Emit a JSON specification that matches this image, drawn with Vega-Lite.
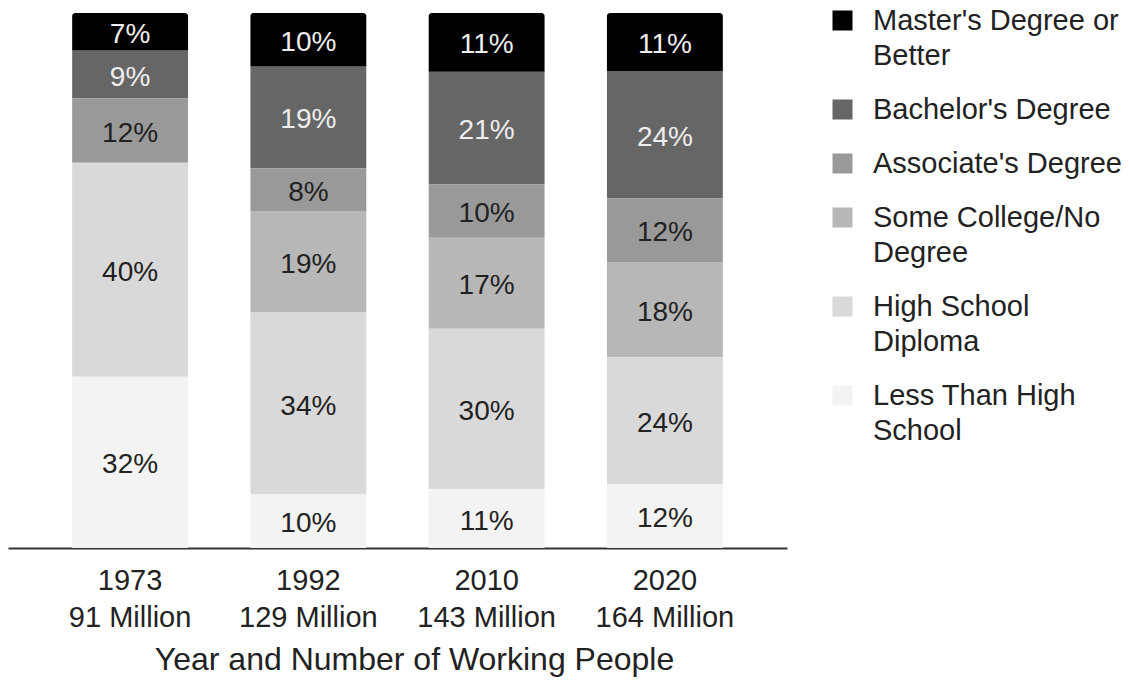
{
  "$schema": "https://vega.github.io/schema/vega-lite/v6.json",
  "width": 779,
  "height": 535,
  "autosize": "none",
  "padding": {"left": 8, "top": 13, "right": 342, "bottom": 132},
  "background": "white",
  "config": {
    "font": "Liberation Sans",
    "view": {"stroke": null},
    "legend": {"padding": 0}
  },
  "data": {
    "values": [
      {"period": "1973, 91 Million", "edu": "Master's Degree or Better", "share": 0.07, "rank": 6},
      {"period": "1973, 91 Million", "edu": "Bachelor's Degree", "share": 0.09, "rank": 5},
      {"period": "1973, 91 Million", "edu": "Associate's Degree", "share": 0.12, "rank": 4},
      {"period": "1973, 91 Million", "edu": "High School Diploma", "share": 0.40, "rank": 2},
      {"period": "1973, 91 Million", "edu": "Less Than High School", "share": 0.32, "rank": 1},
      {"period": "1992, 129 Million", "edu": "Master's Degree or Better", "share": 0.10, "rank": 6},
      {"period": "1992, 129 Million", "edu": "Bachelor's Degree", "share": 0.19, "rank": 5},
      {"period": "1992, 129 Million", "edu": "Associate's Degree", "share": 0.08, "rank": 4},
      {"period": "1992, 129 Million", "edu": "Some College/No Degree", "share": 0.19, "rank": 3},
      {"period": "1992, 129 Million", "edu": "High School Diploma", "share": 0.34, "rank": 2},
      {"period": "1992, 129 Million", "edu": "Less Than High School", "share": 0.10, "rank": 1},
      {"period": "2010, 143 Million", "edu": "Master's Degree or Better", "share": 0.11, "rank": 6},
      {"period": "2010, 143 Million", "edu": "Bachelor's Degree", "share": 0.21, "rank": 5},
      {"period": "2010, 143 Million", "edu": "Associate's Degree", "share": 0.10, "rank": 4},
      {"period": "2010, 143 Million", "edu": "Some College/No Degree", "share": 0.17, "rank": 3},
      {"period": "2010, 143 Million", "edu": "High School Diploma", "share": 0.30, "rank": 2},
      {"period": "2010, 143 Million", "edu": "Less Than High School", "share": 0.11, "rank": 1},
      {"period": "2020, 164 Million", "edu": "Master's Degree or Better", "share": 0.11, "rank": 6},
      {"period": "2020, 164 Million", "edu": "Bachelor's Degree", "share": 0.24, "rank": 5},
      {"period": "2020, 164 Million", "edu": "Associate's Degree", "share": 0.12, "rank": 4},
      {"period": "2020, 164 Million", "edu": "Some College/No Degree", "share": 0.18, "rank": 3},
      {"period": "2020, 164 Million", "edu": "High School Diploma", "share": 0.24, "rank": 2},
      {"period": "2020, 164 Million", "edu": "Less Than High School", "share": 0.12, "rank": 1}
    ]
  },
  "transform": [
    {"stack": "share", "groupby": ["period"], "sort": [{"field": "rank", "order": "ascending"}], "offset": "normalize", "as": ["y0", "y1"]}
  ],
  "encoding": {
    "x": {
      "field": "period",
      "type": "nominal",
      "sort": null,
      "scale": {"paddingInner": 0.35, "paddingOuter": 0.36},
      "axis": {
        "labelAngle": 0,
        "labelExpr": "split(datum.label, ', ')",
        "labelFontSize": 29,
        "labelColor": "#222222",
        "labelLineHeight": 37,
        "labelPadding": 18,
        "ticks": false,
        "domainColor": "#333333",
        "domainWidth": 2,
        "title": "Year and Number of Working People",
        "titleFontSize": 32,
        "titleFontWeight": "normal",
        "titleColor": "#222222",
        "titlePadding": 12,
        "titleX": 406
      }
    }
  },
  "layer": [
    {
      "transform": [{"filter": "datum.rank < 6"}],
      "mark": {"type": "bar"},
      "encoding": {
        "y": {"field": "y1", "type": "quantitative", "scale": {"domain": [0, 1], "nice": false}, "axis": null},
        "y2": {"field": "y0"},
        "color": {
          "field": "edu",
          "type": "nominal",
          "scale": {
            "domain": ["Master's Degree or Better", "Bachelor's Degree", "Associate's Degree", "Some College/No Degree", "High School Diploma", "Less Than High School"],
            "range": ["#000000", "#666666", "#999999", "#b7b7b7", "#d9d9d9", "#f3f3f3"]
          },
          "legend": {
            "title": null,
            "orient": "none",
            "legendX": 820,
            "legendY": -7,
            "symbolType": "square",
            "symbolSize": 400,
            "symbolStrokeWidth": 0,
            "symbolOpacity": 1,
            "labelFontSize": 29,
            "labelColor": "#222222",
            "labelOffset": 16,
            "labelLimit": 400,
            "rowPadding": 24,
            "labelExpr": "datum.label === \"Master's Degree or Better\" ? [\"Master's Degree or\", 'Better'] : datum.label === 'Some College/No Degree' ? ['Some College/No', 'Degree'] : datum.label === 'High School Diploma' ? ['High School', 'Diploma'] : datum.label === 'Less Than High School' ? ['Less Than High', 'School'] : datum.label",
            "encode": {"labels": {"update": {"lineHeight": {"value": 35}}}}
          }
        }
      }
    },
    {
      "transform": [{"filter": "datum.rank == 6"}],
      "mark": {"type": "bar", "cornerRadiusTopLeft": 3, "cornerRadiusTopRight": 3},
      "encoding": {
        "y": {"field": "y1", "type": "quantitative", "scale": {"domain": [0, 1], "nice": false}, "axis": null},
        "y2": {"field": "y0"},
        "color": {"field": "edu", "type": "nominal"}
      }
    },
    {
      "mark": {"type": "text", "fontSize": 28, "baseline": "middle", "dy": 3},
      "encoding": {
        "y": {"field": "share", "type": "quantitative", "stack": "normalize", "bandPosition": 0.5, "scale": {"domain": [0, 1], "nice": false}, "axis": null},
        "order": {"field": "rank", "type": "quantitative", "sort": "ascending"},
        "detail": {"field": "edu"},
        "text": {"field": "share", "type": "quantitative", "format": ".0%"},
        "color": {"condition": {"test": "datum.rank >= 5", "value": "#eeeeee"}, "value": "#222222"}
      }
    }
  ]
}
